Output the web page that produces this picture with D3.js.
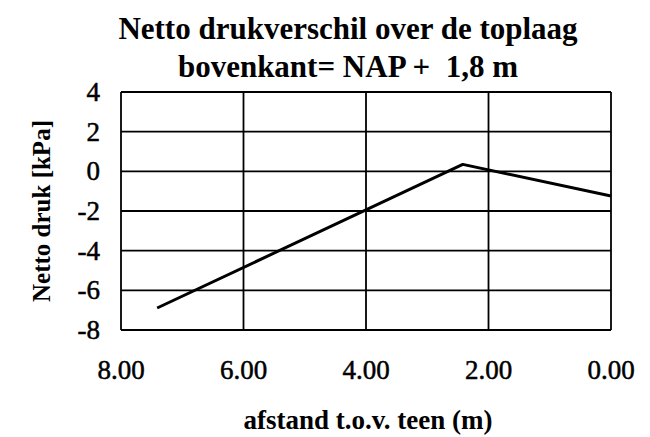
<!DOCTYPE html>
<html>
<head>
<meta charset="utf-8">
<script src="https://cdn.jsdelivr.net/npm/d3@7"></script>
<style>
  body { margin: 0; background: #fff; }
  text { font-family: "Liberation Serif", "Times New Roman", serif; fill: #000; white-space: pre; }
</style>
</head>
<body>
<script>
// afstand t.o.v. teen (m) en netto druk (kPa)
const afstand = [7.41, 2.42, 0.0];
const druk    = [-6.89, 0.35, -1.24];
const xTicks  = [8, 6, 4, 2, 0];
const yTicks  = [-8, -6, -4, -2, 0, 2, 4];
const titleLines = ["Netto drukverschil over de toplaag", "bovenkant= NAP +  1,8 m"];

const width  = 650;
const height = 437;
const plot = {left: 121, right: 611, top: 92, bottom: 330};

const svg = d3.select("body")
    .append("svg")
    .attr("width", width)
    .attr("height", height);

const x = d3.scaleLinear().domain([8, 0]).range([plot.left, plot.right]);
const y = d3.scaleLinear().domain([-8, 4]).range([plot.bottom, plot.top]);

// rasterlijnen
svg.selectAll("line.hgrid")
    .data(yTicks)
  .enter().append("line")
    .attr("class", "hgrid")
    .attr("x1", plot.left).attr("x2", plot.right)
    .attr("y1", d => y(d)).attr("y2", d => y(d))
    .style("stroke", "#000")
    .style("stroke-width", "1.8px");

svg.selectAll("line.vgrid")
    .data(xTicks)
  .enter().append("line")
    .attr("class", "vgrid")
    .attr("x1", d => x(d)).attr("x2", d => x(d))
    .attr("y1", plot.top).attr("y2", plot.bottom)
    .style("stroke", "#000")
    .style("stroke-width", "1.8px");

// as-labels (iets aangedikt, zoals de scan)
svg.selectAll("text.ylab")
    .data(yTicks)
  .enter().append("text")
    .attr("class", "ylab")
    .attr("x", 100)
    .attr("y", d => y(d) + 9)
    .attr("text-anchor", "end")
    .style("font-size", "27px")
    .style("stroke", "#000")
    .style("stroke-width", "0.5px")
    .text(d => d);

svg.selectAll("text.xlab")
    .data(xTicks)
  .enter().append("text")
    .attr("class", "xlab")
    .attr("x", d => x(d))
    .attr("y", 379)
    .attr("text-anchor", "middle")
    .style("font-size", "27px")
    .style("stroke", "#000")
    .style("stroke-width", "0.5px")
    .text(d => d3.format(".2f")(d));

// de lijn
const line = d3.line()
    .x((d, i) => x(afstand[i]))
    .y(d => y(d));

svg.append("path")
    .datum(druk)
    .attr("d", line)
    .style("fill", "none")
    .style("stroke", "#000")
    .style("stroke-width", "3px")
    .style("stroke-linejoin", "round");

// titels
svg.selectAll("text.title")
    .data(titleLines)
  .enter().append("text")
    .attr("class", "title")
    .attr("x", 348)
    .attr("y", (d, i) => 39 + i * 38)
    .attr("text-anchor", "middle")
    .style("font-size", "31px")
    .style("font-weight", "bold")
    .text(d => d);

svg.append("text")
    .attr("transform", `translate(50,${(plot.top + plot.bottom) / 2}) rotate(-90)`)
    .attr("text-anchor", "middle")
    .style("font-size", "25px")
    .style("font-weight", "bold")
    .text("Netto druk [kPa]");

svg.append("text")
    .attr("x", (plot.left + plot.right) / 2 + 2)
    .attr("y", 429)
    .attr("text-anchor", "middle")
    .style("font-size", "27px")
    .style("font-weight", "bold")
    .text("afstand t.o.v. teen (m)");
</script>
</body>
</html>
